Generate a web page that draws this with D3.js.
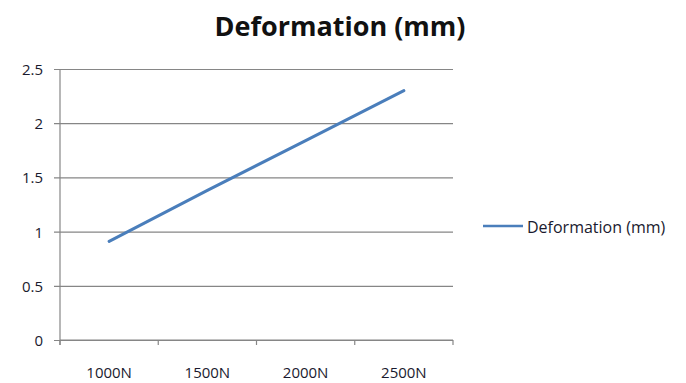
<!DOCTYPE html>
<html>
<head>
<meta charset="utf-8">
<script src="https://cdn.jsdelivr.net/npm/d3@7"></script>
<style>
  html, body { margin: 0; padding: 0; background: #fff; }
  svg { display: block; }
  text { font-family: "Open Sans", "DejaVu Sans", sans-serif; }
</style>
</head>
<body>
<svg id="chart" width="686" height="383"></svg>
<script>
// Applied load per test and the measured deformation
const loads = ["1000N", "1500N", "2000N", "2500N"];
const deformation = [0.91, 1.38, 1.84, 2.3];
const yTicks = [0, 0.5, 1, 1.5, 2, 2.5];
const seriesName = "Deformation (mm)";
const chartTitle = "Deformation (mm)";

const svg = d3.select("#chart");
const plot = { left: 60, right: 453, top: 69, bottom: 340 };
const gridColor = "#868686";
const lineColor = "#4A7EBB";
const textColor = "#1a1a2e";

const x = d3.scaleBand().domain(loads).range([plot.left, plot.right]).paddingInner(0).paddingOuter(0);
const y = d3.scaleLinear().domain([0, 2.5]).range([plot.bottom, plot.top]);

// Title
svg.append("text")
  .attr("x", 340).attr("y", 36)
  .attr("text-anchor", "middle")
  .attr("font-size", 27).attr("font-weight", "bold")
  .attr("fill", "#111")
  .text(chartTitle);

// Horizontal gridlines with short ticks left of the value axis
const yAxis = d3.axisLeft(y).tickValues(yTicks)
  .tickSize(-(plot.right - plot.left + 6)).tickSizeOuter(0)
  .tickFormat(d => d3.format("")(d));
const gy = svg.append("g").attr("transform", `translate(${plot.left - 6},0)`).call(yAxis);
gy.select(".domain").remove();
gy.selectAll(".tick line").attr("stroke", gridColor).attr("stroke-width", 1.2);
gy.selectAll(".tick text")
  .attr("x", -11).attr("dy", "0.36em")
  .attr("font-size", 15).attr("fill", textColor);

// Value axis line
svg.append("line")
  .attr("x1", plot.left).attr("x2", plot.left)
  .attr("y1", plot.top).attr("y2", plot.bottom + 5)
  .attr("stroke", gridColor).attr("stroke-width", 1.2);

// Category axis: ticks at band boundaries
const bounds = loads.map(d => x(d)).concat([x(loads[loads.length - 1]) + x.bandwidth()]);
svg.append("line")
  .attr("x1", plot.left).attr("x2", plot.right)
  .attr("y1", plot.bottom).attr("y2", plot.bottom)
  .attr("stroke", gridColor).attr("stroke-width", 1.2);
svg.selectAll("line.xtick").data(bounds).enter().append("line")
  .attr("class", "xtick")
  .attr("x1", d => d).attr("x2", d => d)
  .attr("y1", plot.bottom).attr("y2", plot.bottom + 5)
  .attr("stroke", gridColor).attr("stroke-width", 1.2);
svg.selectAll("text.xlabel").data(loads).enter().append("text")
  .attr("class", "xlabel")
  .attr("x", d => x(d) + x.bandwidth() / 2)
  .attr("y", 378)
  .attr("text-anchor", "middle")
  .attr("font-size", 15).attr("fill", textColor)
  .text(d => d);

// Data line
const line = d3.line()
  .x((d, i) => x(loads[i]) + x.bandwidth() / 2)
  .y(d => y(d));
svg.append("path")
  .datum(deformation)
  .attr("d", line)
  .attr("fill", "none")
  .attr("stroke", lineColor)
  .attr("stroke-width", 3)
  .attr("stroke-linecap", "round");

// Legend
svg.append("line")
  .attr("x1", 483).attr("x2", 523)
  .attr("y1", 226).attr("y2", 226)
  .attr("stroke", lineColor).attr("stroke-width", 2.5);
svg.append("text")
  .attr("x", 527).attr("y", 227).attr("dy", "0.36em")
  .attr("font-size", 16).attr("fill", textColor)
  .text(seriesName);
</script>
</body>
</html>
